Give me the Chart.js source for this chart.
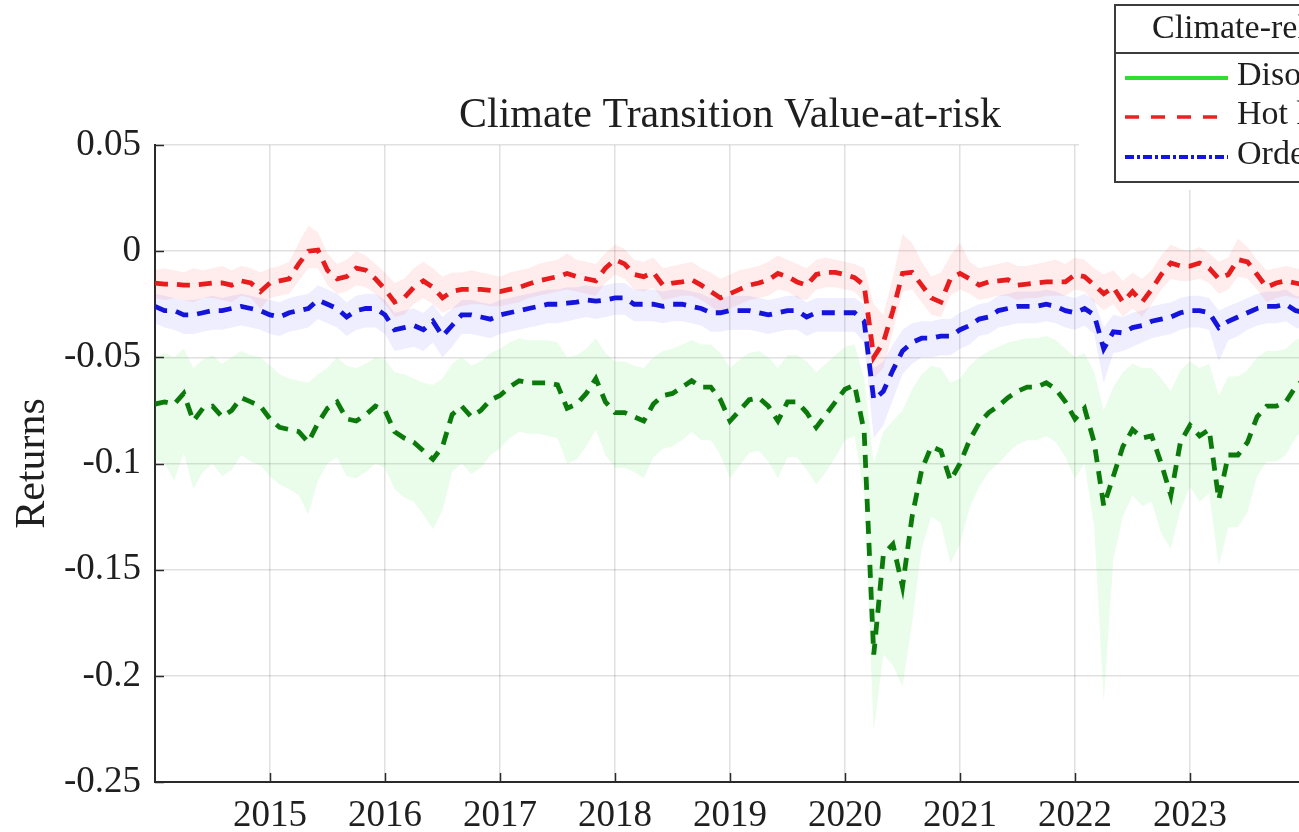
<!DOCTYPE html>
<html>
<head>
<meta charset="utf-8">
<title>Climate Transition Value-at-risk</title>
<script src="https://cdn.jsdelivr.net/npm/chart.js"></script>
<style>
  html, body { margin: 0; padding: 0; background: #fff; overflow: hidden; }
  #wrap { width: 1480px; height: 832px; }
</style>
</head>
<body>
<div id="wrap"><canvas id="varChart" width="1480" height="832"></canvas></div>
<script>
// monthly observations, Jan 2014 .. Jan 2024
const months = [
  '2014-01','2014-02','2014-03','2014-04','2014-05','2014-06','2014-07','2014-08','2014-09','2014-10','2014-11','2014-12',
  '2015-01','2015-02','2015-03','2015-04','2015-05','2015-06','2015-07','2015-08','2015-09','2015-10','2015-11','2015-12',
  '2016-01','2016-02','2016-03','2016-04','2016-05','2016-06','2016-07','2016-08','2016-09','2016-10','2016-11','2016-12',
  '2017-01','2017-02','2017-03','2017-04','2017-05','2017-06','2017-07','2017-08','2017-09','2017-10','2017-11','2017-12',
  '2018-01','2018-02','2018-03','2018-04','2018-05','2018-06','2018-07','2018-08','2018-09','2018-10','2018-11','2018-12',
  '2019-01','2019-02','2019-03','2019-04','2019-05','2019-06','2019-07','2019-08','2019-09','2019-10','2019-11','2019-12',
  '2020-01','2020-02','2020-03','2020-04','2020-05','2020-06','2020-07','2020-08','2020-09','2020-10','2020-11','2020-12',
  '2021-01','2021-02','2021-03','2021-04','2021-05','2021-06','2021-07','2021-08','2021-09','2021-10','2021-11','2021-12',
  '2022-01','2022-02','2022-03','2022-04','2022-05','2022-06','2022-07','2022-08','2022-09','2022-10','2022-11','2022-12',
  '2023-01','2023-02','2023-03','2023-04','2023-05','2023-06','2023-07','2023-08','2023-09','2023-10','2023-11','2023-12',
  '2024-01'
];

const yearTicks = [2015, 2016, 2017, 2018, 2019, 2020, 2021, 2022, 2023];
const returnTicks = [0.05, 0, -0.05, -0.1, -0.15, -0.2, -0.25];

// Disorderly scenario: VaR and its range
const disorderly = [
  -0.072, -0.071, -0.072, -0.067, -0.080, -0.074, -0.073, -0.078, -0.075, -0.069, -0.071, -0.073,
  -0.079, -0.083, -0.084, -0.085, -0.090, -0.081, -0.074, -0.071, -0.079, -0.080, -0.077, -0.073,
  -0.075, -0.085, -0.088, -0.090, -0.094, -0.098, -0.092, -0.077, -0.073, -0.078, -0.075, -0.070,
  -0.068, -0.064, -0.061, -0.062, -0.062, -0.062, -0.063, -0.074, -0.072, -0.067, -0.060, -0.071,
  -0.076, -0.076, -0.078, -0.080, -0.072, -0.068, -0.067, -0.064, -0.061, -0.064, -0.064, -0.070,
  -0.080, -0.075, -0.070, -0.069, -0.073, -0.080, -0.071, -0.071, -0.076, -0.083, -0.077, -0.071,
  -0.065, -0.063, -0.085, -0.190, -0.143, -0.138, -0.158, -0.125, -0.103, -0.092, -0.094, -0.108,
  -0.100, -0.089, -0.081, -0.076, -0.073, -0.069, -0.066, -0.064, -0.064, -0.062, -0.065, -0.071,
  -0.079, -0.074, -0.090, -0.120, -0.106, -0.092, -0.084, -0.088, -0.087, -0.100, -0.115, -0.090,
  -0.082, -0.087, -0.084, -0.117, -0.096, -0.096, -0.090, -0.078, -0.073, -0.073, -0.071, -0.064,
  -0.060
];
const disorderlyHi = [
  -0.050, -0.048, -0.050, -0.046, -0.055, -0.051, -0.049, -0.053, -0.050, -0.047, -0.049, -0.050,
  -0.054, -0.058, -0.060, -0.061, -0.062, -0.058, -0.055, -0.050, -0.054, -0.055, -0.053, -0.050,
  -0.051, -0.057, -0.058, -0.060, -0.062, -0.063, -0.060, -0.053, -0.050, -0.054, -0.052, -0.048,
  -0.046, -0.043, -0.041, -0.042, -0.042, -0.042, -0.043, -0.050, -0.049, -0.046, -0.041, -0.048,
  -0.052, -0.052, -0.054, -0.055, -0.050, -0.047, -0.046, -0.044, -0.042, -0.044, -0.044, -0.048,
  -0.055, -0.051, -0.048, -0.047, -0.050, -0.055, -0.049, -0.049, -0.052, -0.057, -0.053, -0.049,
  -0.045, -0.044, -0.060, -0.100, -0.085, -0.080, -0.075, -0.065, -0.058, -0.054, -0.055, -0.062,
  -0.060, -0.054, -0.050, -0.047, -0.045, -0.043, -0.042, -0.041, -0.041, -0.040, -0.042, -0.046,
  -0.050, -0.048, -0.057, -0.075, -0.064, -0.057, -0.053, -0.055, -0.055, -0.060, -0.066, -0.056,
  -0.052, -0.055, -0.053, -0.068, -0.059, -0.059, -0.056, -0.050, -0.047, -0.047, -0.046, -0.042,
  -0.040
];
const disorderlyLo = [
  -0.098, -0.100, -0.108, -0.095, -0.112, -0.104, -0.100, -0.106, -0.103, -0.096, -0.099, -0.101,
  -0.106, -0.110, -0.112, -0.115, -0.124, -0.108, -0.100, -0.097, -0.106, -0.107, -0.104, -0.100,
  -0.102, -0.112, -0.116, -0.118, -0.124, -0.131, -0.122, -0.104, -0.100, -0.105, -0.102, -0.096,
  -0.093, -0.088, -0.085, -0.086, -0.086, -0.087, -0.088, -0.100, -0.098, -0.092, -0.084, -0.096,
  -0.102, -0.102, -0.104, -0.107, -0.097, -0.093, -0.092, -0.089, -0.085, -0.089, -0.089, -0.096,
  -0.107, -0.101, -0.095, -0.094, -0.099, -0.107, -0.097, -0.097, -0.103, -0.110, -0.104, -0.097,
  -0.089, -0.087, -0.115, -0.226, -0.190, -0.195, -0.205, -0.175, -0.140, -0.125, -0.128, -0.147,
  -0.138, -0.121, -0.111, -0.104, -0.100, -0.095, -0.091, -0.089, -0.089, -0.087, -0.090, -0.097,
  -0.107, -0.100, -0.130, -0.212, -0.145, -0.125, -0.115, -0.120, -0.118, -0.133, -0.140, -0.122,
  -0.111, -0.118, -0.114, -0.148, -0.130, -0.130, -0.123, -0.106, -0.099, -0.099, -0.096, -0.088,
  -0.083
];

// Hot house world
const hotHouse = [
  -0.015, -0.0155, -0.0155, -0.016, -0.016, -0.0155, -0.015, -0.015, -0.016, -0.014, -0.015, -0.019,
  -0.015, -0.014, -0.013, -0.006, 0.000, 0.0005, -0.009, -0.013, -0.012, -0.008, -0.009, -0.013,
  -0.018, -0.024, -0.022, -0.017, -0.014, -0.017, -0.022, -0.019, -0.018, -0.018, -0.018, -0.0185,
  -0.019, -0.018, -0.017, -0.0155, -0.014, -0.013, -0.012, -0.0105, -0.012, -0.013, -0.014, -0.008,
  -0.004, -0.006, -0.011, -0.012, -0.010, -0.016, -0.015, -0.0145, -0.0135, -0.016, -0.019, -0.022,
  -0.020, -0.018, -0.016, -0.015, -0.0135, -0.0105, -0.012, -0.0145, -0.016, -0.011, -0.010, -0.010,
  -0.011, -0.0125, -0.016, -0.050, -0.043, -0.028, -0.0105, -0.010, -0.016, -0.022, -0.024, -0.013,
  -0.0105, -0.013, -0.016, -0.0145, -0.014, -0.0135, -0.016, -0.0155, -0.015, -0.0145, -0.0145, -0.0145,
  -0.011, -0.012, -0.016, -0.020, -0.017, -0.024, -0.019, -0.024, -0.018, -0.011, -0.0056, -0.007,
  -0.007, -0.0056, -0.008, -0.013, -0.011, -0.004, -0.005, -0.011, -0.017, -0.015, -0.014, -0.015,
  -0.016
];
const hotHouseHi = [
  -0.009, -0.008, -0.009, -0.010, -0.008, -0.009, -0.008, -0.007, -0.009, -0.007, -0.008, -0.010,
  -0.008, -0.007, -0.005, 0.004, 0.012, 0.009, -0.001, -0.006, -0.004, 0.000, -0.002, -0.006,
  -0.010, -0.015, -0.013, -0.008, -0.005, -0.008, -0.012, -0.010, -0.010, -0.009, -0.010, -0.011,
  -0.012, -0.010, -0.009, -0.008, -0.006, -0.005, -0.004, -0.001, -0.004, -0.005, -0.006, -0.001,
  0.003, 0.001, -0.004, -0.005, -0.003, -0.008, -0.007, -0.006, -0.005, -0.008, -0.010, -0.013,
  -0.011, -0.009, -0.008, -0.007, -0.005, -0.002, -0.004, -0.006, -0.008, -0.004, -0.003, -0.004,
  -0.005, -0.006, -0.008, -0.025, -0.030, -0.012, 0.008, 0.004, -0.005, -0.012, -0.010, -0.002,
  0.004, -0.005, -0.008, -0.007, -0.006, -0.005, -0.007, -0.007, -0.006, -0.005, -0.004, -0.006,
  -0.003, -0.004, -0.008, -0.011, -0.009, -0.014, -0.010, -0.013, -0.009, -0.002, 0.003, 0.001,
  0.000, 0.002, -0.001, -0.005, -0.003, 0.006, 0.002, -0.004, -0.009, -0.008, -0.007, -0.008,
  -0.009
];
const hotHouseLo = [
  -0.022, -0.023, -0.022, -0.023, -0.024, -0.022, -0.022, -0.023, -0.024, -0.021, -0.022, -0.027,
  -0.022, -0.021, -0.020, -0.014, -0.008, -0.008, -0.016, -0.020, -0.019, -0.016, -0.017, -0.020,
  -0.025, -0.031, -0.030, -0.025, -0.022, -0.025, -0.029, -0.027, -0.026, -0.025, -0.025, -0.026,
  -0.026, -0.025, -0.024, -0.022, -0.021, -0.020, -0.019, -0.018, -0.019, -0.020, -0.021, -0.015,
  -0.011, -0.013, -0.018, -0.019, -0.017, -0.023, -0.022, -0.021, -0.021, -0.023, -0.026, -0.029,
  -0.027, -0.025, -0.023, -0.022, -0.021, -0.018, -0.019, -0.022, -0.023, -0.018, -0.017, -0.017,
  -0.018, -0.019, -0.024, -0.060, -0.055, -0.038, -0.019, -0.018, -0.024, -0.030, -0.031, -0.021,
  -0.018, -0.020, -0.023, -0.022, -0.021, -0.021, -0.023, -0.022, -0.022, -0.021, -0.021, -0.021,
  -0.018, -0.019, -0.024, -0.028, -0.025, -0.031, -0.027, -0.031, -0.025, -0.018, -0.013, -0.014,
  -0.014, -0.013, -0.015, -0.020, -0.018, -0.012, -0.013, -0.018, -0.024, -0.022, -0.021, -0.022,
  -0.023
];

// Orderly transition
const orderly = [
  -0.026, -0.028, -0.028, -0.030, -0.030, -0.029, -0.028, -0.028, -0.027, -0.026, -0.027, -0.028,
  -0.030, -0.031, -0.029, -0.028, -0.027, -0.023, -0.025, -0.027, -0.031, -0.028, -0.027, -0.027,
  -0.030, -0.037, -0.036, -0.035, -0.037, -0.033, -0.040, -0.035, -0.030, -0.030, -0.031, -0.032,
  -0.030, -0.029, -0.028, -0.027, -0.026, -0.025, -0.025, -0.0245, -0.024, -0.023, -0.0235, -0.023,
  -0.022, -0.022, -0.025, -0.025, -0.025, -0.026, -0.025, -0.025, -0.026, -0.027, -0.029, -0.029,
  -0.028, -0.028, -0.028, -0.029, -0.030, -0.029, -0.028, -0.028, -0.031, -0.029, -0.029, -0.029,
  -0.029, -0.029, -0.033, -0.070, -0.066, -0.056, -0.047, -0.043, -0.041, -0.041, -0.040, -0.040,
  -0.037, -0.035, -0.032, -0.031, -0.028, -0.027, -0.026, -0.026, -0.026, -0.025, -0.026, -0.028,
  -0.029, -0.027, -0.030, -0.046, -0.038, -0.0385, -0.036, -0.035, -0.033, -0.032, -0.031, -0.029,
  -0.028, -0.028, -0.029, -0.036, -0.033, -0.031, -0.029, -0.027, -0.026, -0.026, -0.025, -0.028,
  -0.029
];
const orderlyHi = [
  -0.020, -0.021, -0.022, -0.023, -0.023, -0.022, -0.021, -0.022, -0.021, -0.020, -0.021, -0.022,
  -0.023, -0.024, -0.022, -0.021, -0.020, -0.016, -0.018, -0.020, -0.024, -0.021, -0.020, -0.020,
  -0.023, -0.029, -0.028, -0.027, -0.029, -0.025, -0.031, -0.027, -0.023, -0.023, -0.024, -0.025,
  -0.023, -0.022, -0.021, -0.020, -0.019, -0.018, -0.018, -0.017, -0.017, -0.016, -0.017, -0.016,
  -0.015, -0.015, -0.018, -0.018, -0.018, -0.019, -0.018, -0.018, -0.019, -0.020, -0.022, -0.022,
  -0.021, -0.021, -0.021, -0.022, -0.023, -0.022, -0.021, -0.021, -0.024, -0.022, -0.022, -0.022,
  -0.022, -0.022, -0.025, -0.055, -0.052, -0.044, -0.037, -0.034, -0.033, -0.033, -0.032, -0.032,
  -0.029, -0.027, -0.025, -0.024, -0.021, -0.020, -0.019, -0.019, -0.019, -0.018, -0.019, -0.021,
  -0.022, -0.020, -0.023, -0.036, -0.030, -0.031, -0.029, -0.028, -0.026, -0.025, -0.024, -0.022,
  -0.021, -0.021, -0.022, -0.028, -0.026, -0.024, -0.022, -0.020, -0.019, -0.019, -0.018, -0.021,
  -0.022
];
const orderlyLo = [
  -0.034, -0.036, -0.037, -0.039, -0.039, -0.038, -0.037, -0.037, -0.036, -0.035, -0.036, -0.037,
  -0.039, -0.040, -0.038, -0.037, -0.036, -0.032, -0.034, -0.036, -0.040, -0.037, -0.036, -0.036,
  -0.039, -0.047, -0.046, -0.045, -0.047, -0.043, -0.050, -0.045, -0.039, -0.039, -0.040, -0.041,
  -0.039, -0.038, -0.037, -0.036, -0.035, -0.034, -0.034, -0.033, -0.032, -0.031, -0.032, -0.031,
  -0.030, -0.030, -0.033, -0.033, -0.033, -0.034, -0.033, -0.033, -0.034, -0.035, -0.038, -0.038,
  -0.037, -0.037, -0.037, -0.038, -0.039, -0.038, -0.037, -0.037, -0.040, -0.038, -0.038, -0.038,
  -0.038, -0.038, -0.043, -0.088, -0.082, -0.070, -0.058, -0.053, -0.050, -0.050, -0.049, -0.049,
  -0.046, -0.044, -0.040, -0.039, -0.036, -0.035, -0.034, -0.034, -0.034, -0.033, -0.034, -0.036,
  -0.037, -0.035, -0.039, -0.062, -0.048, -0.047, -0.045, -0.043, -0.041, -0.040, -0.039, -0.037,
  -0.036, -0.036, -0.037, -0.052, -0.042, -0.040, -0.037, -0.035, -0.034, -0.034, -0.033, -0.036,
  -0.037
];

const SERIF = "'Liberation Serif', 'Times New Roman', serif";
const INK = '#1f1f1f';

function decimalYear(s) {
  const [y, m] = s.split('-').map(Number);
  return y + (m - 1) / 12;
}
const toPoints = vals => months.map((m, i) => ({ x: decimalYear(m), y: vals[i] }));

function band(hi, lo, fillColor) {
  const edge = { borderWidth: 0, borderColor: 'rgba(0,0,0,0)', pointRadius: 0, order: 5 };
  return [
    Object.assign({ data: toPoints(hi), fill: false }, edge),
    Object.assign({ data: toPoints(lo), fill: '-1', backgroundColor: fillColor }, edge)
  ];
}

function line(vals, color) {
  return {
    data: toPoints(vals),
    borderColor: color,
    borderWidth: 4.8,
    borderDash: [13, 9],
    borderCapStyle: 'butt',
    pointRadius: 0,
    fill: false,
    order: 1
  };
}

// title, inward tick marks and the boxed legend
const decorations = {
  id: 'decorations',
  afterDraw(chart) {
    const { ctx, chartArea: a, scales: { x, y } } = chart;
    ctx.save();

    ctx.strokeStyle = '#2a2a2a';
    ctx.lineWidth = 1.5;
    ctx.beginPath();
    yearTicks.forEach(t => {
      const px = Math.round(x.getPixelForValue(t)) + 0.5;
      ctx.moveTo(px, a.bottom);
      ctx.lineTo(px, a.bottom - 9);
    });
    returnTicks.forEach(t => {
      const py = Math.round(y.getPixelForValue(t)) + 0.5;
      ctx.moveTo(a.left, py);
      ctx.lineTo(a.left + 9, py);
    });
    ctx.stroke();

    ctx.fillStyle = INK;
    ctx.font = '42px ' + SERIF;
    ctx.textAlign = 'center';
    ctx.textBaseline = 'alphabetic';
    ctx.fillText('Climate Transition Value-at-risk', (a.left + a.right) / 2, 127);

    // legend
    const lx = 1115, ly = 5, lw = 350, lh = 177;
    ctx.fillStyle = '#fff';
    ctx.fillRect(1079, 0, chart.width - 1079, 190);
    ctx.strokeStyle = '#3c3c3c';
    ctx.lineWidth = 2;
    ctx.strokeRect(lx, ly, lw, lh);
    ctx.beginPath();
    ctx.moveTo(lx, 53);
    ctx.lineTo(lx + lw, 53);
    ctx.stroke();

    ctx.fillStyle = INK;
    ctx.font = '34px ' + SERIF;
    ctx.textAlign = 'left';
    ctx.fillText('Climate-related scenarios', 1152, 38);

    const rows = [
      { label: 'Disorderly', color: '#30dd30', dash: [], y: 78, w: 4 },
      { label: 'Hot house world', color: '#e82222', dash: [14, 12], y: 117, w: 3.5 },
      { label: 'Orderly', color: '#1515e0', dash: [9, 3, 3, 3], y: 157, w: 4 }
    ];
    ctx.textBaseline = 'middle';
    rows.forEach(r => {
      ctx.strokeStyle = r.color;
      ctx.lineWidth = r.w;
      ctx.setLineDash(r.dash);
      ctx.beginPath();
      ctx.moveTo(1125, r.y);
      ctx.lineTo(1228, r.y);
      ctx.stroke();
      ctx.setLineDash([]);
      ctx.fillStyle = INK;
      ctx.fillText(r.label, 1237, r.y - 2);
    });
    ctx.restore();
  }
};

const ctx = document.getElementById('varChart').getContext('2d');
const varChart = new Chart(ctx, {
  type: 'line',
  data: {
    datasets: [
      ...band(disorderlyHi, disorderlyLo, 'rgba(20, 225, 20, 0.09)'),
      ...band(hotHouseHi, hotHouseLo, 'rgba(255, 20, 20, 0.075)'),
      ...band(orderlyHi, orderlyLo, 'rgba(30, 30, 255, 0.075)'),
      line(disorderly, '#0b7a0b'),
      line(hotHouse, '#e81c1c'),
      line(orderly, '#1414dc')
    ]
  },
  options: {
    responsive: false,
    animation: false,
    layout: { padding: { top: 145, right: 175, left: 0, bottom: 0 } },
    elements: { line: { tension: 0 } },
    plugins: {
      legend: { display: false },
      tooltip: { enabled: false },
      title: { display: false },
      filler: { drawTime: 'beforeDatasetsDraw' }
    },
    scales: {
      x: {
        type: 'linear',
        min: 2014,
        max: 2024,
        afterFit: scale => { scale.height = 50; },
        ticks: {
          stepSize: 1,
          autoSkip: false,
          maxRotation: 0,
          padding: 12,
          color: INK,
          font: { family: SERIF, size: 37 },
          callback: v => (yearTicks.includes(v) ? String(v) : '')
        },
        grid: { color: 'rgba(0,0,0,0.12)', lineWidth: 1.5, drawTicks: false },
        border: { color: '#2a2a2a', width: 2 }
      },
      y: {
        min: -0.25,
        max: 0.05,
        afterFit: scale => { scale.width = 155; },
        ticks: {
          stepSize: 0.05,
          padding: 14,
          color: INK,
          font: { family: SERIF, size: 37 },
          callback: v => String(Math.round(v * 100) / 100)
        },
        title: {
          display: true,
          text: 'Returns',
          color: INK,
          font: { family: SERIF, size: 42 },
          padding: { top: 8, bottom: 0 }
        },
        grid: { color: 'rgba(0,0,0,0.12)', lineWidth: 1.5, drawTicks: false },
        border: { color: '#2a2a2a', width: 2 }
      }
    }
  },
  plugins: [decorations]
});
</script>
</body>
</html>
